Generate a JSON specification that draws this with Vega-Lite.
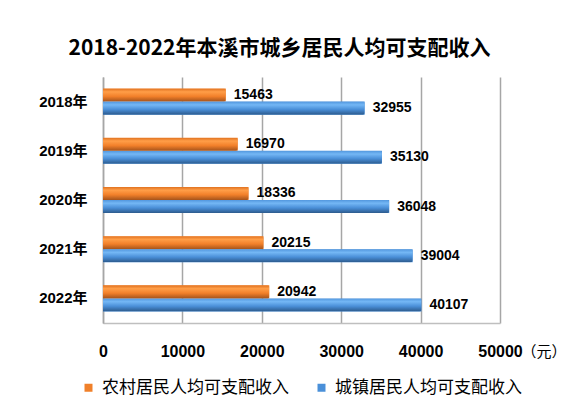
{
  "$schema": "https://vega.github.io/schema/vega-lite/v6.json",
  "width": 397,
  "height": 246,
  "autosize": {"type": "none"},
  "padding": {"left": 103, "top": 77, "right": 84, "bottom": 89},
  "background": "white",
  "config": {"view": {"stroke": null}},
  "title": {
    "text": "2018-2022年本溪市城乡居民人均可支配收入",
    "font": "Noto Sans CJK SC",
    "fontSize": 21,
    "fontWeight": "bold",
    "color": "#000000",
    "anchor": "middle",
    "dx": -22,
    "offset": 18
  },
  "data": {
    "values": [
      {"year": "2018年", "series": "农村居民人均可支配收入", "value": 15463},
      {"year": "2018年", "series": "城镇居民人均可支配收入", "value": 32955},
      {"year": "2019年", "series": "农村居民人均可支配收入", "value": 16970},
      {"year": "2019年", "series": "城镇居民人均可支配收入", "value": 35130},
      {"year": "2020年", "series": "农村居民人均可支配收入", "value": 18336},
      {"year": "2020年", "series": "城镇居民人均可支配收入", "value": 36048},
      {"year": "2021年", "series": "农村居民人均可支配收入", "value": 20215},
      {"year": "2021年", "series": "城镇居民人均可支配收入", "value": 39004},
      {"year": "2022年", "series": "农村居民人均可支配收入", "value": 20942},
      {"year": "2022年", "series": "城镇居民人均可支配收入", "value": 40107}
    ]
  },
  "encoding": {
    "y": {
      "field": "year",
      "type": "nominal",
      "sort": null,
      "scale": {"paddingInner": 0.47, "paddingOuter": 0.235},
      "axis": {
        "title": null,
        "domain": true,
        "domainColor": "#A6A6A6",
        "domainWidth": 1.5,
        "ticks": false,
        "labelPadding": 16,
        "labelFont": "Liberation Sans, Noto Sans CJK SC",
        "labelFontSize": 15,
        "labelFontWeight": "bold",
        "labelColor": "#000000"
      }
    },
    "yOffset": {
      "field": "series",
      "type": "nominal",
      "scale": {"domain": ["农村居民人均可支配收入", "城镇居民人均可支配收入"], "paddingInner": 0, "paddingOuter": 0}
    },
    "x": {
      "field": "value",
      "type": "quantitative",
      "scale": {"domain": [0, 50000], "nice": false},
      "axis": {
        "values": [0, 10000, 20000, 30000, 40000, 50000],
        "grid": true,
        "gridColor": "#A6A6A6",
        "gridWidth": 1.5,
        "domain": true,
        "domainColor": "#BFBFBF",
        "domainWidth": 1.5,
        "ticks": false,
        "labelFlush": false,
        "labelPadding": 20,
        "labelFont": "Liberation Sans",
        "labelFontSize": 16,
        "labelFontWeight": "bold",
        "labelColor": "#000000",
        "format": "d",
        "title": "（元）",
        "titleFont": "Noto Sans CJK SC",
        "titleFontSize": 15,
        "titleFontWeight": "normal",
        "titleColor": "#000000",
        "titleAlign": "left",
        "titleBaseline": "middle",
        "titleX": 418,
        "titleY": 28
      }
    }
  },
  "layer": [
    {
      "mark": {"type": "bar"},
      "encoding": {
        "color": {
          "field": "series",
          "type": "nominal",
          "scale": {"domain": ["农村居民人均可支配收入", "城镇居民人均可支配收入"], "range": ["#F0802A", "#4A90D9"]},
          "legend": {
            "title": null,
            "orient": "none",
            "legendX": -23,
            "legendY": 302,
            "direction": "horizontal",
            "symbolType": "square",
            "symbolSize": 64,
            "symbolStrokeWidth": 0,
            "labelFont": "Noto Sans CJK SC",
            "labelFontSize": 17,
            "labelColor": "#000000",
            "labelLimit": 300,
            "labelOffset": 5,
            "columnPadding": 24
          }
        }
      }
    },
    {
      "transform": [{"filter": "datum.series === '农村居民人均可支配收入'"}],
      "mark": {
        "type": "bar",
        "cornerRadiusEnd": 2,
        "fill": {
          "gradient": "linear", "x1": 0, "y1": 0, "x2": 0, "y2": 1,
          "stops": [
            {"offset": 0, "color": "#E0711F"},
            {"offset": 0.25, "color": "#FF9E48"},
            {"offset": 0.6, "color": "#F2802A"},
            {"offset": 1, "color": "#A4531B"}
          ]
        }
      }
    },
    {
      "transform": [{"filter": "datum.series === '城镇居民人均可支配收入'"}],
      "mark": {
        "type": "bar",
        "cornerRadiusEnd": 2,
        "fill": {
          "gradient": "linear", "x1": 0, "y1": 0, "x2": 0, "y2": 1,
          "stops": [
            {"offset": 0, "color": "#5297DE"},
            {"offset": 0.25, "color": "#74B7F5"},
            {"offset": 0.6, "color": "#4A8FD8"},
            {"offset": 1, "color": "#2C5A8C"}
          ]
        }
      }
    },
    {
      "mark": {
        "type": "text",
        "align": "left",
        "baseline": "middle",
        "dx": 8,
        "font": "Liberation Sans",
        "fontSize": 14,
        "fontWeight": "bold",
        "color": "#000000"
      },
      "encoding": {
        "text": {"field": "value", "type": "quantitative", "format": "d"}
      }
    }
  ]
}
